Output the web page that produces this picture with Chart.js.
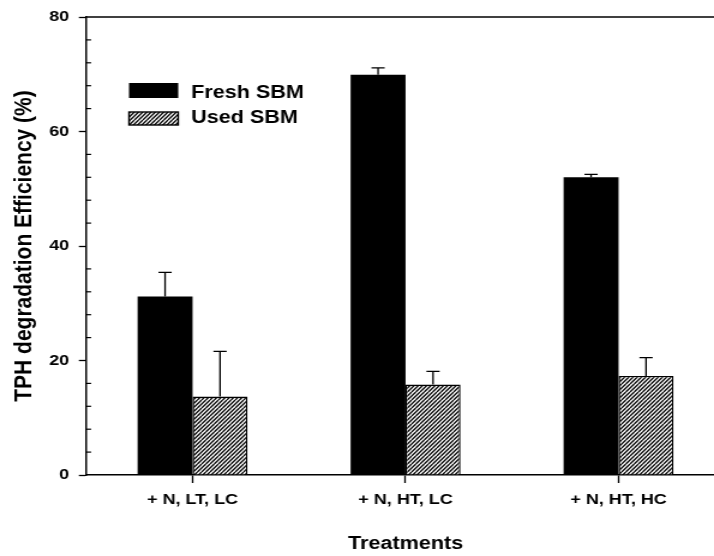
<!DOCTYPE html>
<html>
<head>
<meta charset="utf-8">
<script src="https://cdn.jsdelivr.net/npm/chart.js@4.4.1/dist/chart.umd.min.js"></script>
<style>
html, body { margin: 0; padding: 0; background: #fff; overflow: hidden; width: 714px; height: 556px; }
/* the reference is stretched sideways, so draw narrower and scale up */
#wrap { width: 620px; height: 556px; transform: scaleX(1.2); transform-origin: 0 0; }
</style>
</head>
<body>
<div id="wrap"><canvas id="chart"></canvas></div>
<script>
const categories = ['+ N, LT, LC', '+ N, HT, LC', '+ N, HT, HC'];
const seriesNames = ['Fresh SBM', 'Used SBM'];
const freshValues = [31.2, 69.9, 52.0];
const freshErrors = [4.2, 1.2, 0.5];
const usedValues = [13.7, 15.8, 17.3];
const usedErrors = [7.9, 2.3, 3.2];
const yMin = 0, yMax = 80, yStep = 20, yMinorStep = 4;

function makeHatch() {
    const c = document.createElement('canvas');
    c.width = 7; c.height = 8;
    const g = c.getContext('2d');
    g.fillStyle = '#fff';
    g.fillRect(0, 0, 7, 8);
    g.strokeStyle = '#000';
    g.lineWidth = 1.3;
    for (const dx of [-7, -3.5, 0, 3.5, 7]) {
        g.beginPath();
        g.moveTo(dx, 8);
        g.lineTo(dx + 7, 0);
        g.stroke();
    }
    return g.createPattern(c, 'repeat');
}

// error bars (upper side only)
const errorBars = {
    id: 'errorBars',
    afterDatasetsDraw(chart) {
        const ctx = chart.ctx, y = chart.scales.y;
        ctx.save();
        ctx.strokeStyle = '#000';
        ctx.lineWidth = 1.3;
        chart.data.datasets.forEach((ds, i) => {
            chart.getDatasetMeta(i).data.forEach((bar, j) => {
                const top = y.getPixelForValue(ds.data[j] + ds.errors[j]);
                const base = y.getPixelForValue(ds.data[j]);
                ctx.beginPath();
                ctx.moveTo(bar.x, base);
                ctx.lineTo(bar.x, top);
                ctx.moveTo(bar.x - 5.5, top);
                ctx.lineTo(bar.x + 5.5, top);
                ctx.stroke();
            });
        });
        ctx.restore();
    }
};

// top frame line and inward minor ticks on the y axis
const frame = {
    id: 'frame',
    afterDraw(chart) {
        const ctx = chart.ctx, a = chart.chartArea, y = chart.scales.y;
        ctx.save();
        ctx.strokeStyle = '#000';
        ctx.lineWidth = 1.5;
        ctx.beginPath();
        ctx.moveTo(a.left, a.top);
        ctx.lineTo(a.right + 20, a.top);
        ctx.stroke();
        ctx.lineWidth = 1.2;
        for (let v = yMin; v <= yMax; v += yMinorStep) {
            if (v % yStep === 0) continue;
            const py = y.getPixelForValue(v);
            ctx.beginPath();
            ctx.moveTo(a.left, py);
            ctx.lineTo(a.left + 4.2, py);
            ctx.stroke();
        }
        ctx.restore();
    }
};

// legend inside the plot
const innerLegend = {
    id: 'innerLegend',
    afterDraw(chart) {
        const ctx = chart.ctx, a = chart.chartArea;
        const x0 = a.left + 35.8;
        const rows = [{ top: 83, h: 15, base: 97.7 }, { top: 112, h: 13, base: 123.3 }];
        ctx.save();
        ctx.font = 'bold 18px "Liberation Sans", Arial, sans-serif';
        ctx.textBaseline = 'alphabetic';
        chart.data.datasets.forEach((ds, i) => {
            const r = rows[i];
            ctx.fillStyle = ds.backgroundColor;
            ctx.fillRect(x0, r.top, 41, r.h);
            if (ds.borderWidth) {
                ctx.strokeStyle = '#000';
                ctx.lineWidth = 1.4;
                ctx.strokeRect(x0, r.top, 41, r.h);
            }
            ctx.fillStyle = '#000';
            ctx.fillText(ds.label, x0 + 51.7, r.base);
        });
        ctx.restore();
    }
};

Chart.defaults.font.family = '"Liberation Sans", Arial, sans-serif';
Chart.defaults.font.weight = 'bold';
Chart.defaults.color = '#000';

function renderChart() {
    const ctx = document.getElementById('chart').getContext('2d');
    new Chart(ctx, {
        type: 'bar',
        data: {
            labels: categories,
            datasets: [{
                label: seriesNames[0],
                data: freshValues,
                errors: freshErrors,
                backgroundColor: '#000',
                borderWidth: 0
            }, {
                label: seriesNames[1],
                data: usedValues,
                errors: usedErrors,
                backgroundColor: makeHatch(),
                borderColor: '#000',
                borderWidth: 1.4
            }]
        },
        options: {
            responsive: true,
            maintainAspectRatio: false,
            animation: false,
            categoryPercentage: 0.516,
            barPercentage: 1.0,
            layout: { padding: { top: 14, right: 15.8, bottom: 0, left: 0 } },
            plugins: {
                legend: { display: false },
                tooltip: { enabled: false }
            },
            scales: {
                x: {
                    grid: { offset: false, drawOnChartArea: false, tickLength: 8, tickColor: '#000', tickWidth: 1.3 },
                    border: { color: '#000', width: 1.5 },
                    ticks: { padding: 8, font: { size: 15, weight: 'bold' }, maxRotation: 0 },
                    title: { display: true, text: 'Treatments', font: { size: 18, weight: 'bold' }, padding: { top: 0, bottom: 1 } },
                    afterFit(scale) { scale.height = 81; }
                },
                y: {
                    min: yMin,
                    max: yMax,
                    ticks: { stepSize: yStep, padding: 8, font: { size: 15, weight: 'bold' } },
                    grid: { drawOnChartArea: false, tickLength: 6, tickColor: '#000', tickWidth: 1.3 },
                    border: { color: '#000', width: 1.5 },
                    title: { display: true, text: 'TPH degradation Efficiency (%)', font: { size: 21, weight: 'bold' }, padding: { top: 8, bottom: 0 } },
                    afterFit(scale) { scale.width = 71.7; }
                }
            }
        },
        plugins: [errorBars, frame, innerLegend]
    });
}

document.addEventListener('DOMContentLoaded', renderChart);
</script>
</body>
</html>
